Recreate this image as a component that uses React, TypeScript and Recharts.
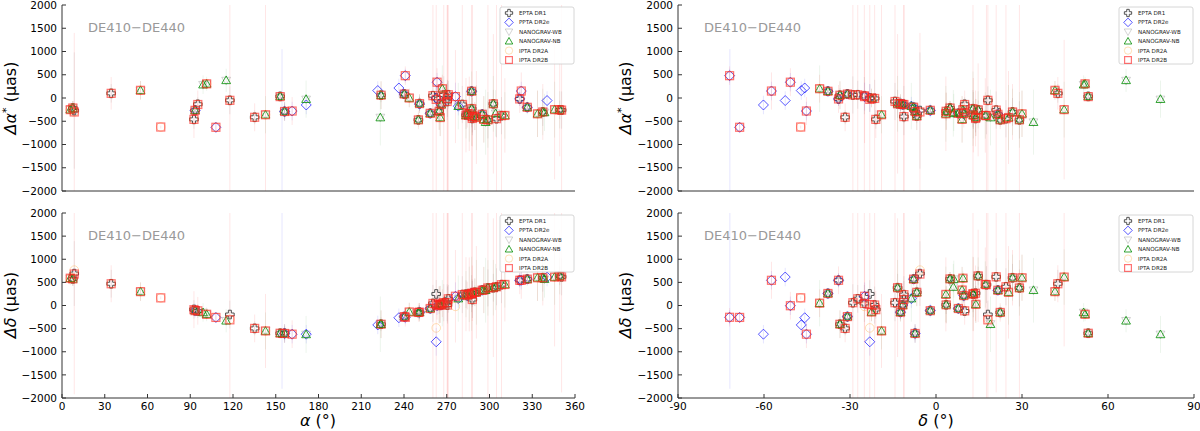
import React from 'react';
import { ScatterChart, Scatter, XAxis, YAxis, ErrorBar } from 'recharts';

// ---------- pulsar positions ----------
const PSR_NAMES = [
  'J0023+0923', 'J0030+0451', 'J0034-0534', 'J0218+4232', 'J0340+4130', 'J0437-4715', 'J0610-2100', 'J0613-0200',
  'J0621+1002', 'J0636+5128', 'J0645+5158', 'J0711-6830', 'J0740+6620', 'J0751+1807', 'J0900-3144', 'J0931-1902',
  'J1012+5307', 'J1017-7156', 'J1024-0719', 'J1045-4509', 'J1125-6014', 'J1125+7819', 'J1446-4701',
  'J1453+1902', 'J1455-3330', 'J1545-4550', 'J1600-3053', 'J1603-7202', 'J1614-2230', 'J1640+2224', 'J1643-1224',
  'J1713+0747', 'J1721-2457', 'J1730-2304', 'J1732-5049', 'J1738+0333', 'J1741+1351', 'J1744-1134', 'J1747-4036',
  'J1751-2857', 'J1801-1417', 'J1802-2124', 'J1804-2717', 'J1824-2452A', 'J1832-0836', 'J1843-1113', 'J1853+1303',
  'J1857+0943', 'J1903+0327', 'J1909-3744', 'J1910+1256', 'J1911+1347', 'J1911-1114', 'J1918-0642', 'J1923+2515',
  'J1939+2134', 'J1944+0907', 'J1949+3106', 'J1955+2908', 'J2010-1323', 'J2017+0603', 'J2019+2425', 'J2033+1734',
  'J2043+1711', 'J2124-3358', 'J2129-5721', 'J2145-0750', 'J2214+3000', 'J2229+2643', 'J2234+0611', 'J2241-5236',
  'J2302+4442', 'J2317+1439', 'J2322+2057',
];
const PSR_RA = [
  5.8, 7.6, 8.6, 34.5, 55.1, 69.3, 92.6, 93.4,
  95.3, 99.0, 101.5, 108.0, 115.2, 117.8, 135.2, 142.8,
  153.1, 154.4, 156.2, 161.5, 171.4, 171.3, 221.6,
  223.4, 223.9, 236.4, 240.2, 240.9, 243.7, 250.1, 250.9,
  258.4, 260.3, 262.6, 263.2, 264.7, 265.4, 266.1, 266.9,
  267.9, 270.3, 270.5, 271.1, 276.1, 278.1, 280.9, 283.5,
  284.4, 285.8, 287.45, 287.5, 287.9, 287.95, 289.7, 290.8,
  294.9, 296.0, 297.3, 298.9, 302.7, 304.3, 304.9, 308.4,
  310.8, 321.2, 322.3, 326.5, 333.7, 337.4, 338.6, 340.4,
  345.7, 349.3, 350.6,
];
const PSR_DEC = [
  9.4, 4.9, -5.6, 42.5, 41.5, -47.2, -21.0, -2.0,
  10.0, 51.5, 52.0, -68.5, 66.3, 18.1, -31.7, -19.0,
  53.1, -71.9, -7.3, -45.2, -60.2, 78.3, -47.0,
  19.0, -33.5, -45.8, -30.9, -72.0, -22.5, 22.4, -12.4,
  7.8, -25.0, -23.1, -50.8, 3.55, 13.9, -11.6, -40.6,
  -29.0, -14.3, -21.4, -27.3, -24.9, -8.6, -11.2, 13.0,
  9.7, 3.45, -37.7, 12.9, 13.8, -11.2, -6.7, 25.3,
  21.6, 9.1, 34.0, 29.1, -13.4, 6.05, 24.4, 17.6,
  17.2, -34.0, -57.4, -7.8, 30.0, 26.7, 6.2, -52.6,
  44.7, 14.7, 21.0,
];

// ---------- series values: [pulsar, Δα* (μas), Δδ (μas), σΔα*, σΔδ] ----------
type Row = [string, number, number, number?, number?];

const EPTA_DR1: Row[] = [
  ['J0030+0451', -215, 575, 150, 150], ['J0034-0534', -270, 690, 1250, 700], ['J0218+4232', 100, 470, 200, 300],
  ['J0610-2100', -460, -85, 200, 200], ['J0613-0200', -265, -110, 80, 80], ['J0621+1002', -135, -120, 150, 150],
  ['J0751+1807', -50, -195, 300, 300], ['J0900-3144', -415, -495, 150, 150], ['J1012+5307', 35, -600, 80, 80],
  ['J1024-0719', -290, -600, 150, 150], ['J1455-3330', 60, -405, 150, 150],
  ['J1600-3053', 85, -240, 60, 60], ['J1640+2224', -470, -150, 100, 100], ['J1643-1224', -120, -145, 150, 150],
  ['J1713+0747', -330, -65, 40, 40], ['J1721-2457', 50, 45, 400, 400], ['J1730-2304', 0, 250, 300, 300],
  ['J1738+0333', -285, 15, 200, 200], ['J1744-1134', -140, 10, 60, 60], ['J1751-2857', 65, 60, 400, 400],
  ['J1801-1417', -75, 60, 400, 400], ['J1802-2124', -10, 10, 400, 400], ['J1804-2717', 70, 145, 300, 300],
  ['J1843-1113', -140, 235, 400, 400], ['J1853+1303', -370, 245, 300, 300], ['J1857+0943', -335, 215, 100, 100],
  ['J1909-3744', 145, 260, 40, 40], ['J1910+1256', -230, 255, 400, 400], ['J1911+1347', -440, 265, 300, 300],
  ['J1911-1114', -400, 130, 400, 400], ['J1918-0642', -390, 285, 150, 150], ['J1939+2134', -350, 330, 60, 60],
  ['J1955+2908', -470, 380, 400, 400], ['J2010-1323', -125, 385, 300, 300], ['J2019+2425', -445, 405, 400, 400],
  ['J2033+1734', -380, 450, 400, 400], ['J2124-3358', -20, 545, 150, 150], ['J2145-0750', -200, 570, 100, 100],
  ['J2229+2643', -300, 600, 300, 300], ['J2317+1439', -255, 640, 200, 200], ['J2322+2057', -260, 620, 400, 400],
];

const PPTA_DR2E: Row[] = [
  ['J0613-0200', -270, -110, 150, 150], ['J0711-6830', -630, -258, 100, 100], ['J1017-7156', -2600, 2500, 3650, 4300],
  ['J1024-0719', -290, -605, 200, 200], ['J1045-4509', -280, -620, 200, 200],
  ['J1125-6014', -150, -620, 200, 200], ['J1446-4701', 160, -420, 200, 200], ['J1545-4550', 215, -265, 200, 200],
  ['J1600-3053', 85, -240, 100, 100], ['J1603-7202', 480, -255, 150, 150], ['J1643-1224', -130, -145, 150, 150],
  ['J1713+0747', -330, -65, 50, 50], ['J1730-2304', 0, -785, 300, 300], ['J1732-5049', 340, -5, 200, 200],
  ['J1744-1134', -140, 10, 80, 80], ['J1824-2452A', 30, 200, 300, 300], ['J1832-0836', -175, 150, 200, 200],
  ['J1857+0943', -335, 215, 150, 150], ['J1909-3744', 145, 260, 40, 40], ['J1939+2134', -350, 330, 80, 80],
  ['J2124-3358', -20, 545, 150, 150], ['J2129-5721', 150, 545, 200, 200], ['J2145-0750', -200, 570, 100, 100],
  ['J2241-5236', -55, 615, 200, 200],
];

const NANOGRAV_WB: Row[] = [
  ['J0023+0923', -255, 585], ['J0030+0451', -215, 570], ['J0340+4130', 160, 300], ['J0613-0200', -265, -115],
  ['J0636+5128', 285, -150], ['J0645+5158', 300, -190], ['J0740+6620', 375, -330], ['J0931-1902', -360, -545],
  ['J1012+5307', 35, -600], ['J1024-0719', -290, -600], ['J1125+7819', -30, -625], ['J1453+1902', -420, -400],
  ['J1455-3330', 60, -400], ['J1600-3053', 85, -240], ['J1614-2230', 0, -140], ['J1640+2224', -470, -150],
  ['J1643-1224', -120, -150], ['J1713+0747', -330, -65], ['J1738+0333', -285, 15], ['J1741+1351', -420, 25],
  ['J1744-1134', -140, 10], ['J1747-4036', 200, 50], ['J1832-0836', -175, 150], ['J1853+1303', -370, 245],
  ['J1857+0943', -335, 215], ['J1903+0327', -340, 240], ['J1909-3744', 145, 260], ['J1910+1256', -230, 255],
  ['J1918-0642', -390, 285], ['J1923+2515', -420, 285], ['J1939+2134', -350, 330], ['J1944+0907', -460, 335],
  ['J1949+3106', -520, 330], ['J1955+2908', -470, 380], ['J2010-1323', -125, 385], ['J2017+0603', -330, 400],
  ['J2043+1711', -375, 455], ['J2145-0750', -200, 570], ['J2214+3000', -340, 600], ['J2229+2643', -300, 600],
  ['J2234+0611', -310, 570], ['J2302+4442', -250, 615], ['J2317+1439', -255, 640],
];

const NANOGRAV_NB: Row[] = [
  ['J0023+0923', -250, 590, 150, 150], ['J0030+0451', -215, 575, 150, 150], ['J0340+4130', 165, 300, 200, 200],
  ['J0613-0200', -265, -110, 100, 100], ['J0636+5128', 287, -150, 200, 200], ['J0645+5158', 305, -190, 150, 150],
  ['J0740+6620', 380, -330, 250, 250], ['J0931-1902', -360, -550, 400, 400], ['J1012+5307', 35, -600, 100, 100],
  ['J1024-0719', -290, -605, 200, 200], ['J1125+7819', -25, -625, 400, 400], ['J1453+1902', -420, -405, 600, 600],
  ['J1455-3330', 60, -405, 300, 300], ['J1600-3053', 85, -240, 100, 100], ['J1614-2230', 0, -140, 200, 200],
  ['J1640+2224', -470, -150, 150, 150], ['J1643-1224', -120, -145, 200, 200], ['J1713+0747', -330, -65, 50, 50],
  ['J1738+0333', -285, 15, 400, 400], ['J1741+1351', -420, 25, 400, 400], ['J1744-1134', -140, 10, 100, 100],
  ['J1747-4036', 200, 50, 500, 500], ['J1832-0836', -175, 150, 500, 500], ['J1853+1303', -370, 245, 500, 500],
  ['J1857+0943', -335, 215, 150, 150], ['J1903+0327', -340, 240, 600, 600], ['J1909-3744', 145, 260, 40, 40],
  ['J1910+1256', -230, 255, 800, 800], ['J1918-0642', -390, 285, 300, 300], ['J1923+2515', -420, 285, 700, 700],
  ['J1939+2134', -350, 330, 60, 60], ['J1944+0907', -460, 335, 500, 500], ['J1949+3106', -520, 330, 700, 700],
  ['J1955+2908', -470, 380, 600, 600], ['J2010-1323', -125, 385, 600, 600], ['J2017+0603', -330, 400, 500, 500],
  ['J2043+1711', -375, 455, 500, 500], ['J2145-0750', -200, 570, 150, 150], ['J2214+3000', -340, 600, 500, 500],
  ['J2229+2643', -300, 600, 500, 500], ['J2234+0611', -310, 570, 400, 400], ['J2302+4442', -250, 615, 600, 600],
  ['J2317+1439', -255, 640, 400, 400],
];

const IPTA_DR2A: Row[] = [
  ['J0023+0923', -250, 590], ['J0030+0451', -215, 575], ['J0034-0534', -300, 765], ['J0218+4232', 100, 470],
  ['J0340+4130', 165, 300], ['J0437-4715', -624, 165], ['J0610-2100', -460, -90], ['J0613-0200', -265, -112],
  ['J0621+1002', -140, -115], ['J0645+5158', 305, -190], ['J0711-6830', -630, -258], ['J0751+1807', -50, -300],
  ['J0900-3144', -415, -495], ['J0931-1902', -360, -550], ['J1012+5307', 30, -600],
  ['J1024-0719', -290, -605], ['J1045-4509', -280, -620], ['J1455-3330', 60, -405], ['J1600-3053', 85, -240],
  ['J1603-7202', 480, -255], ['J1614-2230', 0, -140], ['J1640+2224', -470, -150], ['J1643-1224', -120, -145],
  ['J1713+0747', -330, -65], ['J1721-2457', 50, 45], ['J1730-2304', -20, -485], ['J1732-5049', 340, -5],
  ['J1738+0333', -285, 15], ['J1741+1351', -420, 25], ['J1744-1134', -140, 10], ['J1747-4036', 200, 50],
  ['J1751-2857', 65, 60], ['J1801-1417', -75, 60], ['J1802-2124', -10, 10], ['J1804-2717', 70, 145],
  ['J1824-2452A', 30, -20], ['J1843-1113', -140, 235], ['J1853+1303', -370, 245], ['J1857+0943', -335, 215],
  ['J1903+0327', -340, 240], ['J1909-3744', 145, 260], ['J1910+1256', -230, 255], ['J1911+1347', -440, 265],
  ['J1911-1114', -400, 130], ['J1918-0642', -390, 285], ['J1923+2515', -420, 285], ['J1939+2134', -350, 330],
  ['J1944+0907', -460, 335], ['J1955+2908', -470, 380], ['J2010-1323', -125, 385], ['J2019+2425', -445, 405],
  ['J2033+1734', -380, 450], ['J2043+1711', -375, 455], ['J2124-3358', -20, 545], ['J2129-5721', 150, 545],
  ['J2145-0750', -200, 570], ['J2214+3000', -340, 600], ['J2229+2643', -300, 600], ['J2302+4442', -250, 615],
  ['J2317+1439', -255, 640], ['J2322+2057', -260, 620],
];

const IPTA_DR2B: Row[] = [
  ['J0023+0923', -250, 590, 80, 80], ['J0030+0451', -215, 575, 150, 150], ['J0034-0534', -300, 680, 1700, 2600],
  ['J0218+4232', 100, 470, 350, 400], ['J0340+4130', 165, 300, 200, 200], ['J0437-4715', -624, 165, 30, 30],
  ['J0610-2100', -460, -90, 400, 400], ['J0613-0200', -265, -112, 100, 100], ['J0621+1002', -140, -115, 300, 300],
  ['J0645+5158', 305, -190, 100, 100], ['J0711-6830', -630, -258, 100, 100], ['J0751+1807', -50, -310, 2500, 2500],
  ['J0900-3144', -415, -495, 300, 300], ['J0931-1902', -360, -550, 2500, 800], ['J1012+5307', 30, -600, 100, 100],
  ['J1024-0719', -290, -605, 200, 200], ['J1045-4509', -280, -620, 300, 300],
  ['J1455-3330', 60, -405, 300, 300], ['J1600-3053', 85, -240, 100, 100], ['J1603-7202', 480, -255, 200, 200],
  ['J1614-2230', 0, -140, 200, 200], ['J1640+2224', -470, -150, 200, 200], ['J1643-1224', -120, -145, 200, 200],
  ['J1713+0747', -330, -65, 60, 60], ['J1721-2457', 50, 45, 3000, 3000], ['J1730-2304', -30, 20, 2500, 2500],
  ['J1732-5049', 340, -5, 300, 300], ['J1738+0333', -285, 15, 400, 400], ['J1741+1351', -420, 25, 400, 400],
  ['J1744-1134', -140, 10, 100, 100], ['J1747-4036', 200, 50, 300, 300], ['J1751-2857', 65, 60, 3000, 3000],
  ['J1801-1417', -75, 60, 3000, 3000], ['J1802-2124', -10, 10, 3000, 3000], ['J1804-2717', 70, 145, 2500, 2500],
  ['J1824-2452A', 30, 200, 1000, 1000], ['J1843-1113', -140, 235, 3000, 3000], ['J1853+1303', -370, 245, 800, 800],
  ['J1857+0943', -335, 215, 300, 300], ['J1903+0327', -340, 240, 800, 800], ['J1909-3744', 145, 260, 60, 60],
  ['J1910+1256', -230, 255, 2500, 2500], ['J1911+1347', -440, 265, 600, 600], ['J1911-1114', -400, 130, 3000, 3000],
  ['J1918-0642', -390, 285, 300, 300], ['J1923+2515', -420, 285, 1000, 1000], ['J1939+2134', -350, 330, 100, 100],
  ['J1944+0907', -460, 335, 500, 500], ['J1955+2908', -470, 380, 3000, 3000], ['J2010-1323', -125, 385, 1500, 1500],
  ['J2019+2425', -445, 405, 2500, 2500], ['J2033+1734', -380, 450, 2500, 2500], ['J2043+1711', -375, 455, 800, 800],
  ['J2124-3358', -20, 545, 300, 300], ['J2129-5721', 150, 545, 400, 400], ['J2145-0750', -200, 570, 100, 100],
  ['J2214+3000', -340, 600, 500, 500], ['J2229+2643', -300, 600, 600, 600], ['J2302+4442', -250, 615, 1500, 1500],
  ['J2317+1439', -255, 640, 1000, 1000], ['J2322+2057', -260, 620, 2500, 2500],
];

// ---------- ticks / labels ----------
const RA_TICKS = [0, 30, 60, 90, 120, 150, 180, 210, 240, 270, 300, 330, 360];
const DEC_TICKS = [-90, -60, -30, 0, 30, 60, 90];
const OFFSET_TICKS = [-2000, -1500, -1000, -500, 0, 500, 1000, 1500, 2000];
const Y_DOMAIN: [number, number] = [-2000, 2000];
const TAG_TEXT = 'DE410\u2212DE440';

type Kind = 'plus' | 'diamond' | 'tdown' | 'tup' | 'circle' | 'square';
const SERIES: { name: string; rows: Row[]; kind: Kind; color: string; err: string | null; sw: number }[] = [
  { name: 'EPTA DR1', rows: EPTA_DR1, kind: 'plus', color: '#505050', err: 'rgba(60,60,60,0.10)', sw: 1 },
  { name: 'PPTA DR2e', rows: PPTA_DR2E, kind: 'diamond', color: 'rgba(20,20,255,0.72)', err: 'rgba(0,0,255,0.10)', sw: 1 },
  { name: 'NANOGRAV-WB', rows: NANOGRAV_WB, kind: 'tdown', color: 'rgba(160,160,160,0.45)', err: null, sw: 1 },
  { name: 'NANOGRAV-NB', rows: NANOGRAV_NB, kind: 'tup', color: 'rgba(0,140,0,0.8)', err: 'rgba(0,128,0,0.08)', sw: 1 },
  { name: 'IPTA DR2A', rows: IPTA_DR2A, kind: 'circle', color: 'rgba(255,165,50,0.35)', err: null, sw: 1 },
  { name: 'IPTA DR2B', rows: IPTA_DR2B, kind: 'square', color: 'rgba(255,30,30,0.62)', err: 'rgba(255,0,0,0.10)', sw: 1.2 },
];

function marker(kind: Kind, cx: number, cy: number, color: string, sw: number, s = 1) {
  if (cx == null || cy == null || isNaN(cx) || isNaN(cy)) return <g />;
  const common = { fill: 'none', stroke: color, strokeWidth: sw };
  if (kind === 'plus') {
    const r = 4.3 * s, w = 1.5 * s;
    const d = `M${cx - w},${cy - r}H${cx + w}V${cy - w}H${cx + r}V${cy + w}H${cx + w}V${cy + r}H${cx - w}V${cy + w}H${cx - r}V${cy - w}H${cx - w}Z`;
    return <path d={d} {...common} />;
  }
  if (kind === 'diamond') {
    const r = 5 * s;
    return <path d={`M${cx},${cy - r}L${cx + r},${cy}L${cx},${cy + r}L${cx - r},${cy}Z`} {...common} />;
  }
  if (kind === 'tup') {
    const r = 4.4 * s;
    return <path d={`M${cx},${cy - r}L${cx + r},${cy + r * 0.75}L${cx - r},${cy + r * 0.75}Z`} {...common} />;
  }
  if (kind === 'tdown') {
    const r = 4.4 * s;
    return <path d={`M${cx},${cy + r}L${cx + r},${cy - r * 0.75}L${cx - r},${cy - r * 0.75}Z`} {...common} />;
  }
  if (kind === 'circle') {
    return <circle cx={cx} cy={cy} r={4.3 * s} {...common} />;
  }
  const h = 4 * s;
  return <rect x={cx - h} y={cy - h} width={2 * h} height={2 * h} {...common} />;
}

const idx = (p: string) => PSR_NAMES.indexOf(p);

// error bars are trimmed to the plotted range (the plot frame clips them in the original)
function panelData(rows: Row[], xField: 'ra' | 'dec', yField: 'da' | 'dd') {
  return rows.map((r) => {
    const i = idx(r[0]);
    const x = xField === 'ra' ? PSR_RA[i] : PSR_DEC[i];
    const y = yField === 'da' ? r[1] : r[2];
    const err = (yField === 'da' ? r[3] : r[4]) ?? 0;
    const lo = Math.max(y - err, Y_DOMAIN[0]);
    const hi = Math.min(y + err, Y_DOMAIN[1]);
    return { x, y, e: [y - lo, hi - y] };
  });
}

const fmt = (v: number) => (v < 0 ? '\u2212' + Math.abs(v) : String(v));
const FONT = "'DejaVu Sans', sans-serif";

type PanelCfg = {
  left: number; top: number; w: number; h: number;
  mTop: number; mRight: number; yW: number; xH: number;
  xField: 'ra' | 'dec'; yField: 'da' | 'dd'; xDomain: [number, number]; xTicks: number[]; showX: boolean;
};

const PANELS: PanelCfg[] = [
  { left: 0, top: 0, w: 600, h: 213, mTop: 5, mRight: 25, yW: 62, xH: 22, xField: 'ra', yField: 'da', xDomain: [0, 360], xTicks: RA_TICKS, showX: false },
  { left: 600, top: 0, w: 600, h: 213, mTop: 5, mRight: 6, yW: 78, xH: 22, xField: 'dec', yField: 'da', xDomain: [-90, 90], xTicks: DEC_TICKS, showX: false },
  { left: 0, top: 200, w: 600, h: 231, mTop: 13, mRight: 25, yW: 62, xH: 33, xField: 'ra', yField: 'dd', xDomain: [0, 360], xTicks: RA_TICKS, showX: true },
  { left: 600, top: 200, w: 600, h: 231, mTop: 13, mRight: 6, yW: 78, xH: 33, xField: 'dec', yField: 'dd', xDomain: [-90, 90], xTicks: DEC_TICKS, showX: true },
];

const AX = '#333';

function Panel({ cfg }: { cfg: PanelCfg }) {
  return (
    <div style={{ position: 'absolute', left: cfg.left, top: cfg.top, width: cfg.w, height: cfg.h }}>
      <ScatterChart width={cfg.w} height={cfg.h} margin={{ top: cfg.mTop, right: cfg.mRight, bottom: 0, left: 0 }}>
        <XAxis
          xAxisId="b" type="number" dataKey="x" domain={cfg.xDomain} ticks={cfg.xTicks} allowDataOverflow interval={0}
          orientation="bottom" height={cfg.xH} tickSize={-4} tickMargin={9}
          tick={cfg.showX ? { fontSize: 10.5, fill: '#000', fontFamily: FONT } : false}
          axisLine={{ stroke: AX, strokeWidth: 1 }} tickLine={{ stroke: AX, strokeWidth: 1 }}
        />
        <XAxis
          xAxisId="t" type="number" domain={cfg.xDomain} ticks={cfg.xTicks} allowDataOverflow interval={0}
          orientation="top" height={0} tickSize={-4} tick={false}
          axisLine={{ stroke: AX, strokeWidth: 1 }} tickLine={{ stroke: AX, strokeWidth: 1 }}
        />
        <YAxis
          yAxisId="l" type="number" dataKey="y" domain={Y_DOMAIN} ticks={OFFSET_TICKS} allowDataOverflow interval={0}
          width={cfg.yW} tickSize={-4} tickMargin={9} tickFormatter={fmt}
          tick={{ fontSize: 10.5, fill: '#000', fontFamily: FONT }}
          axisLine={{ stroke: AX, strokeWidth: 1 }} tickLine={{ stroke: AX, strokeWidth: 1 }}
        />
        <YAxis
          yAxisId="r" type="number" orientation="right" domain={Y_DOMAIN} ticks={OFFSET_TICKS} allowDataOverflow interval={0}
          width={0} tickSize={-4} tick={false}
          axisLine={{ stroke: AX, strokeWidth: 1 }} tickLine={{ stroke: AX, strokeWidth: 1 }}
        />
        {SERIES.map((s) => (
          <Scatter
            key={s.name}
            name={s.name}
            xAxisId="b"
            yAxisId="l"
            data={panelData(s.rows, cfg.xField, cfg.yField)}
            isAnimationActive={false}
            shape={(p: any) => {
              const v = p?.payload?.y;
              if (typeof v === 'number' && (v < Y_DOMAIN[0] || v > Y_DOMAIN[1])) return <g />;
              return marker(s.kind, p.cx, p.cy, s.color, s.sw);
            }}
          >
            {s.err ? <ErrorBar dataKey="e" direction="y" width={0} stroke={s.err} strokeWidth={1} /> : null}
          </Scatter>
        ))}
      </ScatterChart>
    </div>
  );
}

function LegendBox({ x, y }: { x: number; y: number }) {
  return (
    <g>
      <rect x={x} y={y} width={74} height={57} rx={2} fill="#fff" fillOpacity={0.85} stroke="#cccccc" strokeWidth={0.8} />
      {SERIES.map((s, i) => {
        const cy = y + 6 + i * 9.4;
        return (
          <g key={s.name}>
            {marker(s.kind, x + 9, cy, s.color, s.sw, 0.85)}
            <text x={x + 19} y={cy} dominantBaseline="central" fontSize={5.6} fill="#222" fontFamily={FONT}>{s.name}</text>
          </g>
        );
      })}
    </g>
  );
}

function YTitle({ x, y, second }: { x: number; y: number; second: 'da' | 'dd' }) {
  return (
    <text transform={`translate(${x},${y}) rotate(-90)`} textAnchor="middle" fontSize={16} fontFamily={FONT} fill="#000">
      <tspan fontStyle="italic">Δ{second === 'da' ? 'α' : 'δ'}</tspan>
      {second === 'da' ? <tspan dy={-6} fontSize={11}>*</tspan> : null}
      {second === 'da' ? <tspan dy={6}> (μas)</tspan> : <tspan> (μas)</tspan>}
    </text>
  );
}

export default function App() {
  return (
    <div style={{ position: 'absolute', left: 0, top: 0, width: 1200, height: 431, background: '#fff', fontFamily: FONT }}>
      {PANELS.map((p, i) => (
        <Panel key={i} cfg={p} />
      ))}
      <svg width={1200} height={431} style={{ position: 'absolute', left: 0, top: 0, pointerEvents: 'none' }}>
        <text x={88} y={32} fontSize={13} fill="#999" fontFamily={FONT}>{TAG_TEXT}</text>
        <text x={704} y={32} fontSize={13} fill="#999" fontFamily={FONT}>{TAG_TEXT}</text>
        <text x={88} y={240} fontSize={13} fill="#999" fontFamily={FONT}>{TAG_TEXT}</text>
        <text x={704} y={240} fontSize={13} fill="#999" fontFamily={FONT}>{TAG_TEXT}</text>
        <LegendBox x={500} y={7} />
        <LegendBox x={1119} y={7} />
        <LegendBox x={500} y={215} />
        <LegendBox x={1119} y={215} />
        <YTitle x={16} y={98} second="da" />
        <YTitle x={631} y={98} second="da" />
        <YTitle x={16} y={305} second="dd" />
        <YTitle x={631} y={305} second="dd" />
        <text x={318} y={426} textAnchor="middle" fontSize={16} fontFamily={FONT} fill="#000">
          <tspan fontStyle="italic">α</tspan> (°)
        </text>
        <text x={936} y={426} textAnchor="middle" fontSize={16} fontFamily={FONT} fill="#000">
          <tspan fontStyle="italic">δ</tspan> (°)
        </text>
      </svg>
    </div>
  );
}
